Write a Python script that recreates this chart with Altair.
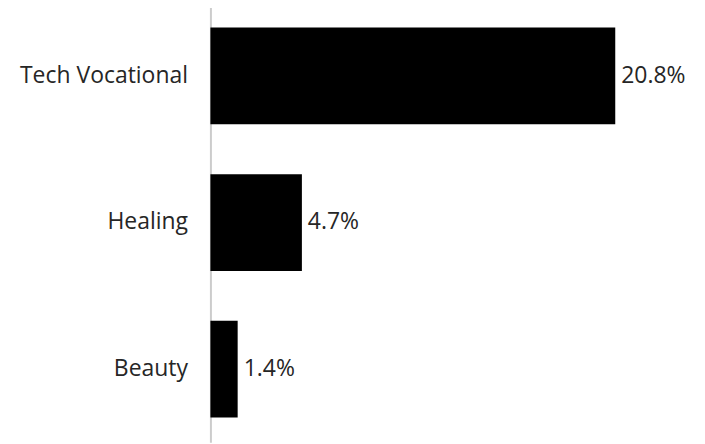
import altair as alt
import pandas as pd

categories = ["Tech Vocational", "Healing", "Beauty"]
values = [20.8, 4.7, 1.4]
labels = ["20.8%", "4.7%", "1.4%"]

df = pd.DataFrame({"category": categories, "value": values, "label": labels})

y_enc = alt.Y(
    "category:N",
    sort=categories,
    scale=alt.Scale(paddingInner=0.34, paddingOuter=0.17),
    axis=alt.Axis(
        title=None,
        ticks=False,
        domainColor="#cccccc",
        domainWidth=2,
        labelFont="Open Sans",
        labelFontSize=23,
        labelColor="#262626",
        labelPadding=23,
        grid=False,
    ),
)
x_enc = alt.X("value:Q", scale=alt.Scale(domain=[0, 25]), axis=None)

bars = alt.Chart(df).mark_bar(color="#000000").encode(x=x_enc, y=y_enc)
text = alt.Chart(df).mark_text(
    align="left", baseline="middle", dx=6, font="Open Sans", fontSize=23, color="#262626"
).encode(x=x_enc, y=y_enc, text="label:N")

chart = (
    alt.layer(bars, text)
    .properties(
        width=488,
        height=441,
        autosize=alt.AutoSizeParams(type="none"),
        padding={"left": 203, "top": -6, "right": 0, "bottom": 0},
    )
    .configure(background="#ffffff", view=alt.ViewConfig(stroke=None))
)

chart.save("out.html", embed_options={"renderer": "svg", "actions": False})
